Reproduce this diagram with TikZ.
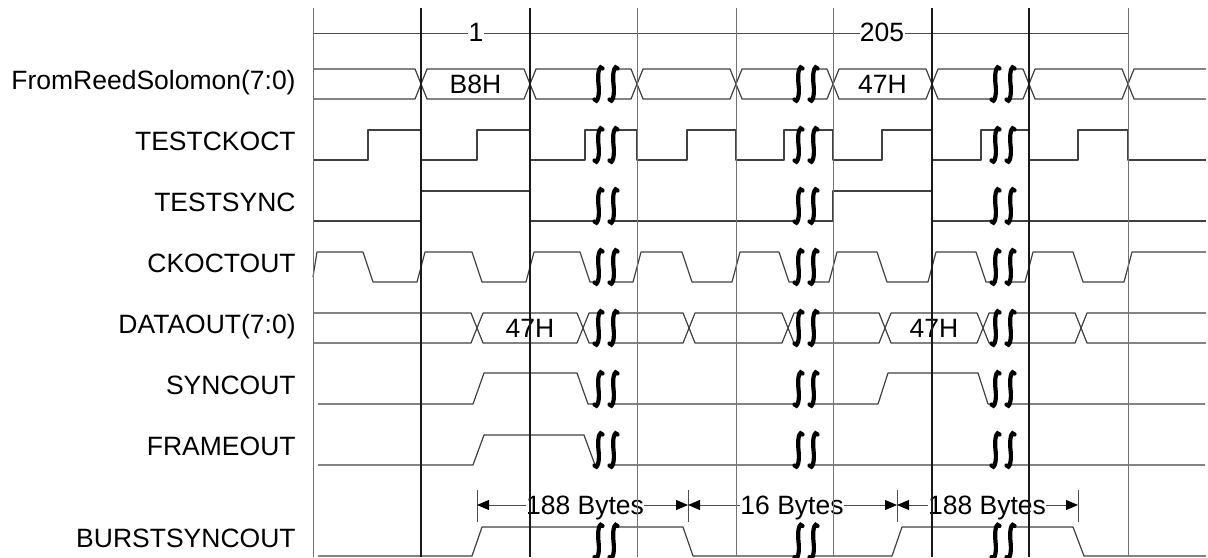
\documentclass[tikz,border=0pt]{standalone}
\usepackage{fontspec}
\setmainfont{Liberation Sans}
\usetikzlibrary{arrows.meta}

\begin{document}
\begin{tikzpicture}[x=0.5pt,y=-0.5pt,
  sig/.style={draw=black!75,line width=0.6pt,line join=round},
  gridlt/.style={draw=black!55,line width=0.5pt},
  griddk/.style={draw=black!90,line width=0.7pt},
  brkline/.style={line width=2.1pt,line cap=round},
  dimline/.style={draw=black!70,line width=0.5pt},
  dimtip/.style={-{Triangle[length=6pt,width=5pt,color=black]}},
  lbl/.style={font=\fontsize{13.25}{16}\selectfont,inner sep=0pt},
  signame/.style={lbl,anchor=base east},
  brkmark/.pic={
    \fill[white] (-7,-16) rectangle (7,16);
    \foreach \s in {-7.5,7.5}
      \draw[brkline,xshift=\s*0.5pt] (4,-15.5) .. controls (1.5,-20) and (-1.5,-12) .. (0,0)
        .. controls (1.5,12) and (-1.5,20) .. (-4,15.5);
  }]
\useasboundingbox (0,0) rectangle (1208,557);

% signal names
\node[signame] (nRS)    at (296,89.5)  {FromReedSolomon(7:0)};
\node[signame] (nTCK)   at (296,150.5) {TESTCKOCT};
\node[signame] (nTSY)   at (296,211.5) {TESTSYNC};
\node[signame] (nCKO)   at (296,272.5) {CKOCTOUT};
\node[signame] (nDAT)   at (296,333.5) {DATAOUT(7:0)};
\node[signame] (nSYO)   at (296,394.5) {SYNCOUT};
\node[signame] (nFRO)   at (296,455.5) {FRAMEOUT};
\node[signame] (nBSY)   at (296,547)   {BURSTSYNCOUT};

% byte index line
\coordinate (ixL) at (313,33);
\coordinate (ixR) at (1128,33);
\node[lbl,anchor=base] (ix1)   at (476,41.5) {1};
\node[lbl,anchor=base] (ix205) at (882,41.5) {205};
\draw[dimline] (ixL) -- (ix1.west |- ixL);
\draw[dimline] (ix1.east |- ixL) -- (ix205.west |- ixL);
\draw[dimline] (ix205.east |- ixL) -- (ixR);

% FromReedSolomon bus
\draw[sig] (313,69) -- (415,69) -- (421,84) -- (415,99) -- (313,99);
\foreach \a/\b in {421/530,530/637,637/736,736/833,833/932,932/1029,1029/1128}
  \draw[sig] (\a,84) -- ({\a+6},69) -- ({\b-6},69) -- (\b,84) -- ({\b-6},99) -- ({\a+6},99) -- cycle;
\draw[sig] (1206,69) -- (1134,69) -- (1128,84) -- (1134,99) -- (1206,99);
\node[lbl,anchor=base] (vB8)  at (475.5,93.5) {B8H};
\node[lbl,anchor=base] (v47a) at (882.5,93.5) {47H};

% TESTCKOCT
\draw[sig] (313,160) \foreach \m/\b in {368/421,477/530,585/637,687/736,784/833,882/932,981/1029,1078/1128}
  { -- (\m,160) -- (\m,130) -- (\b,130) -- (\b,160) } -- (1206,160);

% TESTSYNC
\draw[sig] (313,221) -- (421,221) -- (421,191) -- (530,191) -- (530,221) -- (833,221)
  -- (833,191) -- (932,191) -- (932,221) -- (1206,221);

% CKOCTOUT
\draw[sig] (313,277) -- (317,252) \foreach \m/\b in {368/421,477/530,585/637,687/736,784/833,882/932,981/1029,1078/1128}
  { -- ({\m-5},252) -- ({\m+5},282) -- ({\b-4},282) -- ({\b+4},252) } -- (1206,252);

% DATAOUT bus
\draw[sig] (313,313) -- (471,313) -- (477,328) -- (471,343) -- (313,343);
\foreach \a/\b in {477/583,583/689,689/788,788/885,885/983,983/1081}
  \draw[sig] (\a,328) -- ({\a+6},313) -- ({\b-6},313) -- (\b,328) -- ({\b-6},343) -- ({\a+6},343) -- cycle;
\draw[sig] (1206,313) -- (1087,313) -- (1081,328) -- (1087,343) -- (1206,343);
\node[lbl,anchor=base] (v47b) at (530,337.5) {47H};
\node[lbl,anchor=base] (v47c) at (934,337.5) {47H};

% SYNCOUT, FRAMEOUT, BURSTSYNCOUT
\draw[sig] (318,404) -- (473,404) -- (484,373) -- (577,373) -- (588,404) -- (878,404)
  -- (888,373) -- (978,373) -- (988,404) -- (1205,404);
\draw[sig] (318,465) -- (473,465) -- (484,435) -- (584,435) -- (595,465) -- (1205,465);
\draw[sig] (318,556) -- (472,556) -- (482,527) -- (683,527) -- (693,556) -- (892,556)
  -- (902,527) -- (1073,527) -- (1084,556) -- (1206,556);

% breaks
\foreach \c in {606,806,1003}
  \foreach \r in {84,145,206,267,328,389,450,541.5}
    \pic at (\c,\r) {brkmark};

% burst lengths
\coordinate (d1) at (477,505);
\coordinate (d2) at (688,505);
\coordinate (d3) at (897,505);
\coordinate (d4) at (1078,505);
\foreach \t in {d1,d2,d3,d4}
  \draw[dimline] ([yshift=7.5pt]\t) -- ([yshift=-8.5pt]\t);
\node[lbl,anchor=base] (w1) at (585,514) {188 Bytes};
\node[lbl,anchor=base] (w2) at (792,514) {16 Bytes};
\node[lbl,anchor=base] (w3) at (987,514) {188 Bytes};
\draw[dimline,dimtip] (w1.west |- d1) -- (d1);
\draw[dimline,dimtip] (w1.east |- d1) -- (d2);
\draw[dimline,dimtip] (w2.west |- d1) -- (d2);
\draw[dimline,dimtip] (w2.east |- d1) -- (d3);
\draw[dimline,dimtip] (w3.west |- d1) -- (d3);
\draw[dimline,dimtip] (w3.east |- d1) -- (d4);

% grid
\foreach \g in {313,637,736,833,1128}
  \draw[gridlt] (\g,8) -- (\g,557);
\foreach \g in {421,530,932,1029}
  \draw[griddk] (\g,8) -- (\g,557);

\end{tikzpicture}
\end{document}
